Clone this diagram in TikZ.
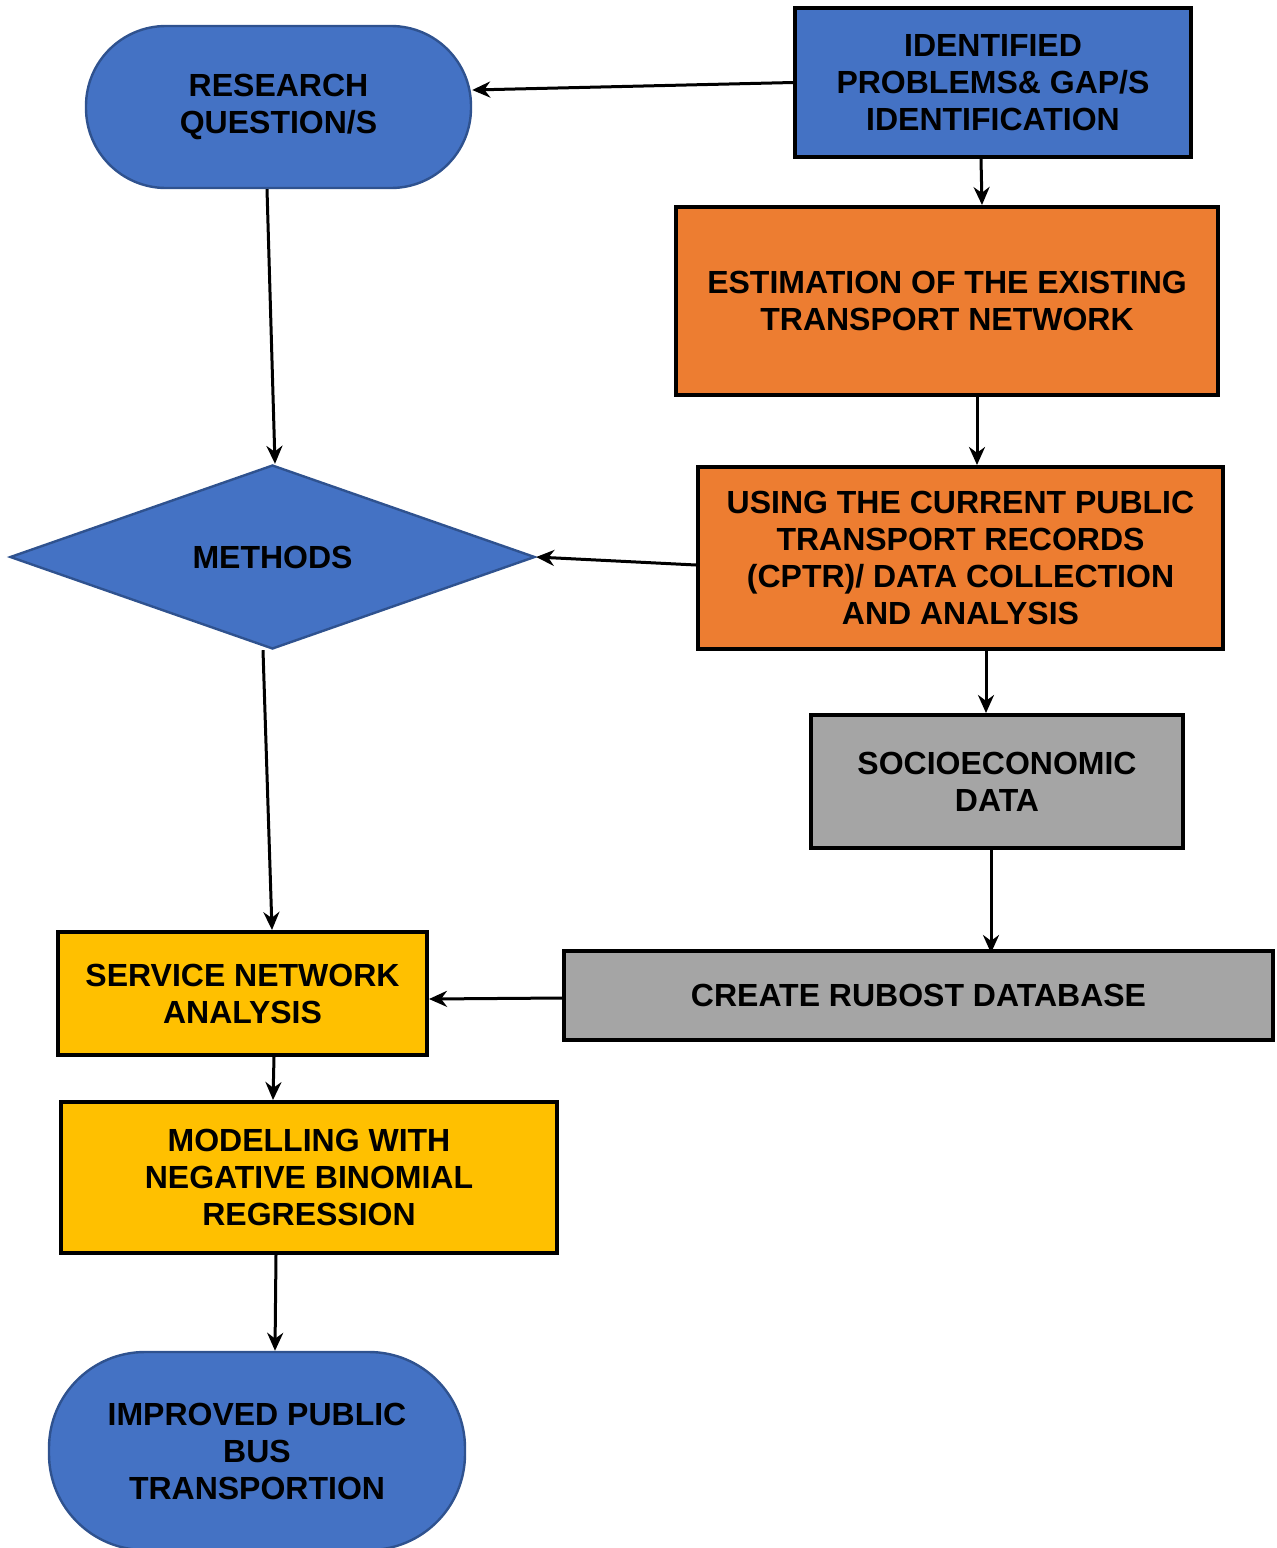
\documentclass[tikz,border=0pt]{standalone}
\usepackage{fontspec}
\setmainfont{Liberation Sans}
\usetikzlibrary{shapes.geometric,arrows.meta}
\definecolor{cblue}{HTML}{4472C4}
\definecolor{cblueb}{HTML}{2F528F}
\definecolor{corange}{HTML}{ED7D31}
\definecolor{cgray}{HTML}{A5A5A5}
\definecolor{cyellow}{HTML}{FFC000}
\tikzset{
  txt/.style={font=\bfseries\fontsize{16pt}{18.5pt}\selectfont, align=center, text=black, inner sep=0pt},
  bluebox/.style={txt, fill=cblue, draw=cblueb, line width=1.2pt},
  blackbox/.style={txt, draw=black, line width=2pt},
  arr/.style={-{Stealth[length=9pt,width=8pt]}, line width=1.5pt, black},
}
\begin{document}
\begin{tikzpicture}[x=0.5pt,y=-0.5pt]
\useasboundingbox (0,0) rectangle (1276,1548);
\clip (0,0) rectangle (1276,1548);
% nodes
\node[bluebox, rounded corners=40pt, minimum width=192.5pt, minimum height=81pt] (rq) at (278.5,107) {RESEARCH\\QUESTION/S};
\node[blackbox, fill=cblue, minimum width=198pt, minimum height=74.5pt] (ident) at (993,82.5) {IDENTIFIED\\PROBLEMS\& GAP/S\\IDENTIFICATION};
\node[blackbox, fill=corange, minimum width=271pt, minimum height=94pt] (est) at (947,301) {ESTIMATION OF THE EXISTING\\TRANSPORT NETWORK};
\node[blackbox, fill=corange, minimum width=262.5pt, minimum height=91pt] (use) at (960.5,558) {USING THE CURRENT PUBLIC\\TRANSPORT RECORDS\\(CPTR)/ DATA COLLECTION\\AND ANALYSIS};
\node[bluebox, diamond, aspect=2.85, minimum width=262.5pt, minimum height=92pt, inner sep=0pt] (meth) at (272.5,557) {METHODS};
\node[blackbox, fill=cgray, minimum width=186pt, minimum height=66.5pt] (socio) at (997,781.5) {SOCIOECONOMIC\\DATA};
\node[blackbox, fill=cgray, minimum width=354.5pt, minimum height=44.5pt] (create) at (918.5,995.5) {CREATE RUBOST DATABASE};
\node[blackbox, fill=cyellow, minimum width=184.5pt, minimum height=61.5pt] (serv) at (242.5,993.5) {SERVICE NETWORK\\ANALYSIS};
\node[blackbox, fill=cyellow, minimum width=248pt, minimum height=75.5pt] (model) at (309,1177.5) {MODELLING WITH\\NEGATIVE BINOMIAL\\REGRESSION};
\node[bluebox, rounded corners=48pt, minimum width=208pt, minimum height=99pt] (imp) at (257,1451) {IMPROVED PUBLIC\\BUS\\TRANSPORTION};
% connectors
\draw[arr] (ident.west) -- ([yshift=8.5pt]rq.east);
\draw[arr] ([xshift=-6pt]ident.south) -- ([xshift=17.5pt]est.north);
\draw[arr] ([xshift=-5.75pt]rq.south) -- ([xshift=1.25pt]meth.north);
\draw[arr] ([xshift=15pt]est.south) -- ([xshift=8.25pt]use.north);
\draw[arr] ([yshift=-3.5pt]use.west) -- (meth.east);
\draw[arr] ([xshift=12.75pt]use.south) -- ([xshift=-5.5pt]socio.north);
\draw[arr] ([xshift=-4.75pt]meth.south) -- ([xshift=14.75pt]serv.north);
\draw[arr] ([xshift=-3pt]socio.south) -- ([xshift=36.25pt,yshift=-2pt]create.north);
\draw[arr] ([yshift=-1.25pt]create.west) -- ([yshift=-2.75pt]serv.east);
\draw[arr] ([xshift=15.75pt]serv.south) -- ([xshift=-18pt]model.north);
\draw[arr] ([xshift=-16.5pt]model.south) -- ([xshift=9pt]imp.north);
\end{tikzpicture}
\end{document}
